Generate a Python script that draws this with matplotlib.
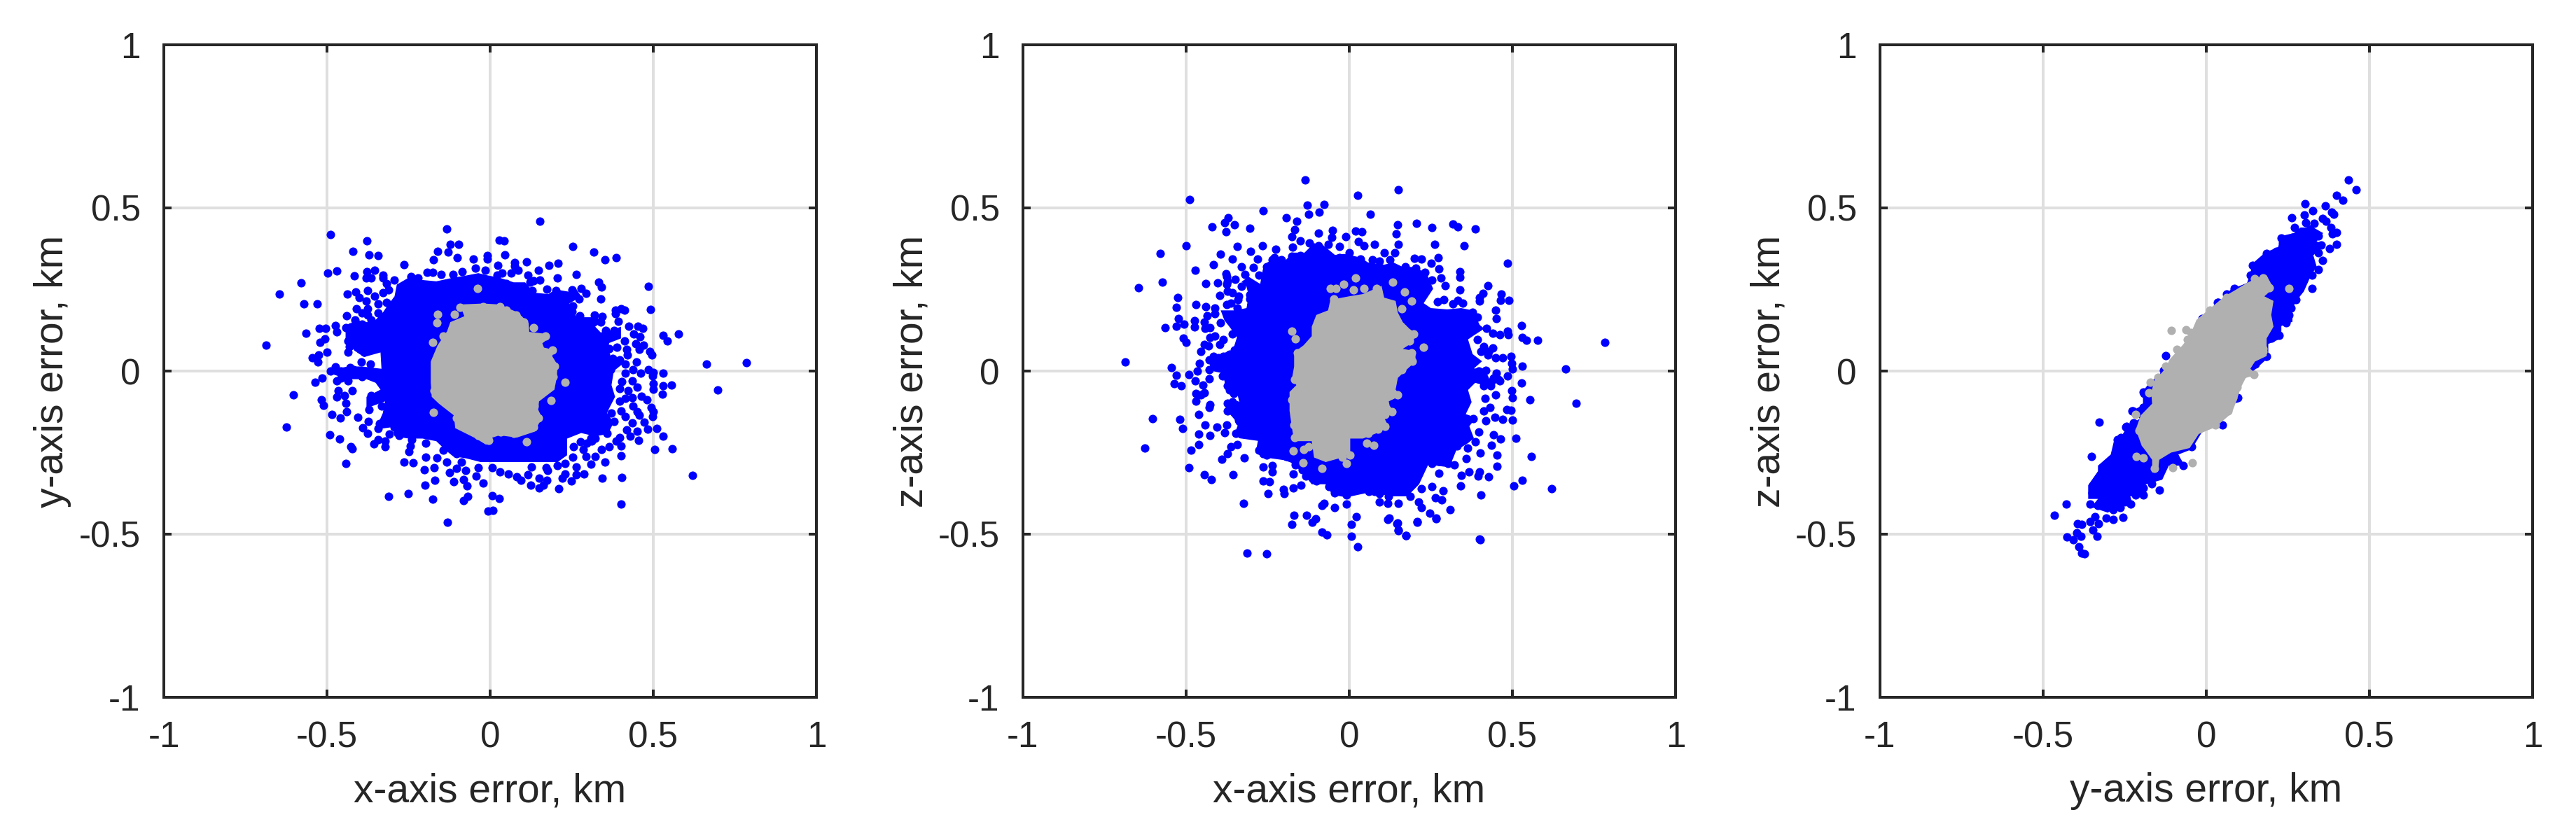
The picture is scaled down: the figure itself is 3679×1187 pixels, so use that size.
import numpy as np
import matplotlib
matplotlib.use('Agg')
import matplotlib.pyplot as plt

plt.rcParams['font.family'] = ['Liberation Sans', 'DejaVu Sans']
plt.rcParams['axes.unicode_minus'] = False

ticks = [-1, -0.5, 0, 0.5, 1]
tick_labels = ['-1', '-0.5', '0', '0.5', '1']
xlabels = ['x-axis error, km', 'x-axis error, km', 'y-axis error, km']
ylabels = ['y-axis error, km', 'z-axis error, km', 'z-axis error, km']

# the middle of each cloud is saturated, single points cannot be read there,
# so the solid areas are outlines (core) and only the
# points that can be told apart are listed one by one (dots)

# x-y panel
xy_blue_core = [(-.443,.129),(-.415,.157),(-.379,.150),(-.358,.150),(-.329,.179),(-.315,.200),(-.293,.229),(-.286,.265),(-.250,.286),(-.207,.279),(-.165,.275),(-.114,.286),(-.072,.293),(-.036,.300),(-.007,.293),(.029,.286),(.072,.272),(.107,.272),(.136,.240),(.179,.236),(.200,.250),(.243,.243),(.265,.250),(.279,.229),(.243,.207),(.265,.165),(.315,.165),(.351,.157),(.322,.136),(.343,.114),(.401,.136),(.401,.100),(.365,.086),(.358,.050),(.415,.029),(.379,0),(.372,-.043),(.383,-.079),(.365,-.114),(.358,-.129),(.379,-.157),(.361,-.193),(.322,-.200),(.279,-.190),(.236,-.207),(.236,-.258),(.207,-.279),(.150,-.279),(.107,-.279),(.093,-.279),(.014,-.279),(-.029,-.279),(-.072,-.268),(-.114,-.261),(-.136,-.243),(-.165,-.215),(-.207,-.207),(-.250,-.207),(-.293,-.200),(-.300,-.172),(-.351,-.179),(-.329,-.129),(-.322,-.093),(-.379,-.114),(-.379,-.079),(-.336,-.057),(-.351,-.036),(-.379,-.025),(-.436,-.025),(-.479,-.011),(-.486,.004),(-.436,.014),(-.393,.014),(-.333,.007),(-.336,.057),(-.386,.043),(-.408,.057),(-.429,.079),(-.443,.100)]
xy_blue_dots = [(-.489,.418),(-.377,.399),(-.420,.368),(-.371,.356),(-.343,.354),(-.134,.435),(-.122,.389),(-.097,.388),(-.128,.365),(-.160,.366),(-.173,.341),(-.264,.326),(-.100,.347),(-.051,.343),(-.009,.354),(-.009,.343),(.028,.401),(.043,.399),(.044,.357),(.024,.323),(.075,.322),(-.497,.300),(-.471,.307),(-.579,.270),(-.645,.237),(-.571,.207),(-.530,.207),(-.416,.291),(-.378,.305),(-.354,.309),(-.379,.285),(-.365,.285),(-.329,.293),(-.293,.279),(-.242,.290),(-.222,.286),(-.193,.302),(-.175,.303),(-.150,.297),(-.114,.297),(-.086,.304),(-.046,.315),(-.014,.309),(-.438,.236),(-.411,.242),(-.376,.246),(-.354,.230),(-.402,.225),(-.409,.192),(-.376,.172),(-.440,.170),(-.415,.157),(-.441,.132),(-.474,.139),(-.469,.120),(-.524,.131),(-.504,.131),(-.564,.115),(-.506,.099),(-.521,.087),(-.686,.079),(-.436,.093),(-.431,.075),(-.435,.057),(-.499,.058),(-.526,.049),(-.545,.040),(-.528,.027),(-.394,.027),(-.368,.021),(-.474,.013),(-.429,.011),(-.490,.001),(-.458,0),(-.515,-.022),(-.536,-.034),(-.469,-.030),(-.436,-.030),(-.423,-.061),(-.465,-.061),(-.471,-.079),(-.447,-.075),(-.602,-.074),(-.518,-.089),(-.510,-.106),(-.441,-.099),(-.439,-.125),(-.486,-.132),(-.460,-.144),(-.405,-.142),(-.374,-.154),(-.625,-.172),(-.390,-.173),(-.376,-.192),(-.491,-.195),(-.461,-.209),(-.427,-.231),(-.422,-.239),(-.443,-.283),(-.356,-.224),(-.343,-.211),(-.322,-.232),(-.308,-.193),(-.343,-.175),(-.279,-.197),(-.240,-.211),(-.245,-.229),(-.249,-.247),(-.197,-.222),(-.143,-.243),(-.104,-.254),(-.264,-.278),(-.237,-.281),(-.197,-.264),(-.163,-.266),(-.172,-.297),(-.133,-.280),(-.202,-.303),(-.087,-.278),(-.104,-.298),(-.124,-.312),(-.075,-.304),(-.036,-.297),(.007,-.297),(.029,-.308),(.055,-.315),(-.043,-.322),(-.169,-.334),(-.112,-.339),(-.082,-.333),(-.070,-.352),(-.021,-.343),(-.199,-.350),(.081,-.323),(.095,-.335),(-.312,-.385),(-.252,-.376),(-.175,-.393),(-.068,-.384),(-.081,-.398),(.007,-.381),(.028,-.391),(-.007,-.430),(.009,-.427),(-.130,-.464),
    (.153,.460),(.254,.383),(.318,.364),(.353,.342),(.387,.348),(.180,.325),(.209,.330),(.111,.334),(.147,.308),(.116,.295),(.207,.285),(.263,.297),(.152,.279),(.132,.276),(.173,.252),(.333,.272),(.341,.258),(.484,.259),(.340,.222),(.202,.247),(.250,.249),(.279,.254),(.295,.238),(.273,.220),(.254,.199),(.250,.182),(.491,.188),(.385,.187),(.401,.192),(.411,.186),(.385,.175),(.275,.170),(.320,.172),(.343,.167),(.340,.150),(.393,.152),(.424,.137),(.453,.137),(.467,.130),(.440,.113),(.460,.105),(.531,.109),(.543,.092),(.578,.113),(.413,.093),(.388,.072),(.447,.084),(.469,.080),(.418,.066),(.420,.050),(.458,.066),(.489,.061),(.495,.049),(.663,.022),(.785,.026),(.448,.027),(.376,.039),(.397,.034),(.415,.021),(.438,.004),(.486,.004),(.499,-.004),(.529,-.006),(.462,-.007),(.415,-.007),(.497,-.016),(.435,-.029),(.404,-.032),(.396,-.054),(.422,-.061),(.451,-.049),(.500,-.039),(.500,-.055),(.529,-.045),(.556,-.042),(.528,-.071),(.697,-.058),(.464,-.077),(.481,-.089),(.436,-.082),(.415,-.084),(.397,-.093),(.494,-.111),(.500,-.125),(.498,-.140),(.438,-.107),(.402,-.123),(.415,-.139),(.451,-.125),(.458,-.136),(.372,-.129),(.379,-.154),(.436,-.159),(.472,-.157),(.511,-.176),(.483,-.179),(.451,-.185),(.418,-.180),(.531,-.199),(.429,-.199),(.397,-.204),(.454,-.213),(.386,-.215),(.401,-.229),(.365,-.231),(.342,-.241),(.505,-.241),(.557,-.239),(.401,-.260),(.352,-.278),(.322,-.261),(.293,-.261),(.286,-.240),(.311,-.215),(.277,-.216),(.256,-.232),(.254,-.265),(.309,-.286),(.265,-.295),(.288,-.315),(.265,-.318),(.248,-.336),(.343,-.329),(.404,-.326),(.620,-.320),(.402,-.408),(.222,-.329),(.210,-.361),(.173,-.334),(.150,-.329),(.164,-.349),(.151,-.358),(.125,-.349),(.175,-.304),(.127,-.295),(.116,-.318),(.229,-.315),
    (-.329,.286),(-.318,.268),(-.311,.250),(-.329,.240),(-.379,.215),(-.343,.207),(-.318,.211),(-.376,.190),(-.393,.179),(-.343,.179),(-.365,.157),(-.393,.143),(-.426,.136),(-.429,.114),(-.404,.125),(-.379,.122),(-.401,.100),(-.408,.072),(-.386,.057),(-.365,.072),(-.386,.082),(-.418,.004),(-.393,-.018),(-.436,-.018),(-.458,-.021),(-.365,-.075),(-.372,-.118),(-.333,-.107),(-.340,-.161),(-.322,-.215),(-.293,-.172),(.354,.125),(.379,.125),(.343,.107),(.372,.107),(.365,.068),(.354,.050),(.369,.004),(.322,-.207),(.358,-.190),(.336,-.175),(.297,-.222),(.308,-.207),(.207,-.290),(.172,-.297),(.229,-.283),(.036,.300),(.021,.293),(.064,.300),(.086,.308),(.075,.333),(.050,.268),(.129,.247),(.122,.272)]
xy_gray_core = [(-.093,.204),(-.021,.207),(.029,.204),(.086,.179),(.118,.147),(.120,.120),(.172,.114),(.179,.100),(.160,.085),(.165,.072),(.200,.064),(.190,.046),(.207,.018),(.204,-.021),(.197,-.057),(.150,-.093),(.147,-.118),(.159,-.143),(.136,-.186),(.082,-.204),(.029,-.197),(.007,-.204),(0,-.225),(-.014,-.225),(-.043,-.207),(-.107,-.175),(-.111,-.136),(-.157,-.100),(-.179,-.079),(-.182,-.036),(-.182,.029),(-.161,.079),(-.132,.122),(-.122,.150),(-.079,.168)]
xy_gray_dots = [(-.039,.253),(-.092,.195),(-.160,.173),(-.109,.173),(-.163,.147),(-.143,.107),(-.175,.089),(.134,.132),(.170,.107),(.190,.064),(.177,.034),(.198,.016),(.193,-.018),(.229,-.034),(.187,-.090),(-.173,-.127),(.136,-.107),(.147,-.143),(.134,-.172),(.112,-.217),(.072,-.192),(.032,-.186),(-.004,-.213),(-.036,-.197),(-.104,-.143),(-.172,-.061),(-.143,-.089),(-.021,.197),(.029,.197),(.050,.186),(.079,.172),(.104,.150),(-.046,.190)]

# x-z panel
xz_blue_core = [(-.383,.156),(-.394,.186),(-.351,.186),(-.315,.193),(-.308,.230),(-.315,.259),(-.330,.274),(-.308,.289),(-.273,.267),(-.265,.311),(-.251,.333),(-.222,.348),(-.194,.341),(-.172,.363),(-.137,.363),(-.108,.392),(-.079,.385),(-.044,.356),(-.015,.359),(.035,.348),(.057,.333),(.107,.326),(.135,.333),(.164,.319),(.200,.319),(.228,.304),(.242,.289),(.257,.252),(.228,.208),(.250,.193),(.300,.189),(.343,.193),(.378,.186),(.400,.141),(.414,.130),(.386,.112),(.364,.097),(.378,.052),(.407,.030),(.382,.008),(.414,.008),(.428,-.021),(.436,-.051),(.386,-.036),(.364,-.058),(.375,-.095),(.357,-.132),(.389,-.143),(.368,-.169),(.382,-.206),(.364,-.221),(.328,-.243),(.307,-.295),(.242,-.287),(.228,-.317),(.214,-.347),(.178,-.384),(.135,-.384),(.057,-.373),(-.008,-.387),(-.051,-.380),(-.072,-.347),(-.115,-.347),(-.144,-.310),(-.180,-.280),(-.201,-.273),(-.258,-.265),(-.287,-.251),(-.280,-.214),(-.337,-.206),(-.351,-.191),(-.340,-.162),(-.366,-.132),(-.380,-.103),(-.337,-.095),(-.344,-.066),(-.380,-.044),(-.387,-.007),(-.423,.001),(-.430,.030),(-.373,.052),(-.358,.060),(-.344,.104),(-.366,.134)]
xz_blue_dots = [(-.135,.585),(-.490,.525),(.026,.538),(-.128,.508),(-.077,.511),(-.265,.492),(-.124,.481),(-.092,.488),(.064,.480),(-.194,.469),(-.160,.459),(-.372,.469),(-.381,.454),(-.351,.448),(-.420,.442),(-.304,.438),(-.378,.426),(-.168,.433),(-.177,.411),(-.094,.422),(-.051,.431),(.019,.429),(.039,.428),(-.151,.400),(-.054,.409),(-.011,.411),(.028,.398),(.044,.385),(.078,.389),(-.499,.385),(-.579,.360),(-.394,.358),(-.343,.381),(-.359,.344),(-.303,.368),(-.267,.384),(-.282,.344),(-.225,.374),(-.174,.379),(-.029,.381),(.108,.363),(-.416,.326),(-.473,.310),(-.331,.320),(-.294,.318),(-.378,.298),(-.319,.296),(-.276,.295),(-.237,.341),(-.573,.273),(-.645,.256),(-.439,.268),(-.404,.271),(-.349,.282),(-.376,.267),(-.373,.245),(-.330,.259),(-.301,.259),(-.398,.231),(-.358,.241),(-.342,.219),(-.305,.222),(-.526,.225),(-.531,.195),(-.469,.203),(-.439,.197),(-.411,.194),(-.411,.176),(-.376,.203),(-.344,.193),(-.435,.169),(-.524,.160),(-.529,.138),(-.506,.143),(-.475,.154),(-.474,.135),(-.444,.150),(-.441,.131),(-.426,.134),(-.564,.132),(-.394,.149),(-.358,.113),(-.509,.101),(-.499,.089),(-.412,.108),(-.426,.102),(-.387,.097),(-.396,.081),(-.444,.082),(-.431,.078),(-.454,.060),(-.351,.064),(-.373,.047),(-.687,.027),(-.546,.010),(-.460,.023),(-.430,.034),(-.401,.041),(-.430,.004),(-.465,.001),(-.491,-.010),(-.529,-.013),(-.388,-.014),(-.351,-.007),(-.472,-.030),(-.430,-.024),(-.536,-.038),(-.516,-.044),(-.448,-.042),(-.373,-.044),(-.444,-.066),(-.355,-.068),(-.471,-.069),(-.469,-.092),(-.455,-.073),(-.426,-.104),(-.430,-.112),(-.374,-.098),(-.374,-.123),(-.348,-.103),(-.461,-.132),(-.604,-.146),(-.519,-.147),(-.510,-.177),(-.441,-.166),(-.406,-.171),(-.375,-.166),(-.340,-.151),(-.381,-.189),(-.461,-.194),(-.428,-.198),(-.348,-.191),(-.319,-.180),(-.626,-.236),(-.462,-.226),(-.486,-.242),(-.362,-.231),(-.343,-.225),(-.373,-.254),(-.391,-.271),(-.321,-.266),(-.491,-.296),(-.444,-.318),(-.422,-.333),(-.356,-.317),(-.276,-.243),(-.254,-.258),(-.263,-.293),(-.237,-.289),(-.236,-.308),(-.265,-.336),(-.245,-.338),(-.250,-.376),(-.323,-.406),(-.201,-.363),(-.199,-.376),(-.172,-.359),(-.147,-.350),(-.165,-.288),(-.171,-.316),(-.194,-.262),(-.133,-.321),(-.101,-.336),(-.062,-.354),(-.044,-.373),(-.009,-.380),(.021,-.363),(-.078,-.406),(-.083,-.412),(-.046,-.419),(-.008,-.407),(-.169,-.441),(-.131,-.441),(-.104,-.452),(-.113,-.463),(-.176,-.469),(.021,-.447),(.007,-.470),(-.083,-.494),(-.069,-.503),(.007,-.506),(.061,-.369),(.092,-.376),(.092,-.402),(.117,-.406),(.123,-.450),
    (-.313,-.557),(-.253,-.561),(.026,-.539),(.401,-.518),(.174,-.505),(.151,-.489),(.147,-.466),(.208,-.462),(.266,-.453),(.119,-.454),
    (.151,.556),(.148,.449),(.207,.453),(.254,.439),(.318,.450),(.333,.442),(.386,.435),(.144,.420),(.151,.389),(.261,.389),(.353,.384),(.139,.362),(.199,.346),(.222,.344),(.273,.348),(.250,.330),(.484,.330),(.172,.319),(.203,.315),(.274,.313),(.232,.302),(.339,.304),(.339,.288),(.282,.285),(.253,.278),(.294,.262),(.424,.261),(.340,.250),(.409,.239),(.466,.236),(.400,.226),(.400,.215),(.464,.217),(.490,.217),(.289,.219),(.271,.213),(.332,.217),(.318,.205),(.348,.208),(.448,.186),(.450,.160),(.378,.180),(.393,.166),(.528,.140),(.420,.130),(.439,.115),(.461,.112),(.486,.123),(.487,.112),(.530,.102),(.543,.095),(.577,.095),(.784,.089),(.411,.076),(.440,.070),(.403,.060),(.425,.049),(.448,.040),(.471,.040),(.496,.044),(.497,.024),(.529,.016),(.499,.006),(.663,.006),(.396,.001),(.418,.002),(.450,-.007),(.486,-.016),(.461,-.029),(.527,-.036),(.411,-.045),(.434,-.046),(.497,-.060),(.499,-.081),(.449,-.074),(.554,-.088),(.696,-.099),(.416,-.083),(.432,-.112),(.413,-.123),(.482,-.119),(.496,-.120),(.419,-.152),(.446,-.141),(.471,-.147),(.499,-.151),(.379,-.146),(.398,-.186),(.443,-.196),(.464,-.208),(.511,-.206),(.436,-.227),(.386,-.216),(.362,-.236),(.402,-.251),(.453,-.258),(.557,-.261),(.358,-.268),(.452,-.291),(.321,-.288),(.275,-.313),(.343,-.319),(.366,-.310),(.400,-.310),(.394,-.321),(.428,-.324),(.530,-.334),(.504,-.352),(.620,-.360),(.342,-.352),(.253,-.354),(.288,-.367),(.264,-.389),(.283,-.395),(.403,-.380),(.222,-.360),(.187,-.384),(.151,-.406),(.212,-.402),(.220,-.418),(.308,-.424),(.247,-.435),(.266,-.451),(.208,-.463),(.146,-.467),(.151,-.488),(.173,-.504),(.400,-.515),(.303,-.284),(.253,-.284),(.275,-.276),(.257,-.247),(.296,-.247),(.330,-.230),
    (-.376,.289),(-.373,.274),(-.362,.208),(-.340,.230),(-.304,.234),(-.301,.204),(-.258,.267),(-.254,.319),(-.251,.289),(-.230,.348),(-.208,.341),(-.176,.352),(-.151,.355),(-.122,.392),(-.094,.385),(-.065,.389),(-.029,.348),(-.001,.363),(.035,.344),(.071,.341),(.092,.337),(.124,.341),(-.416,.045),(-.387,.045),(-.366,.052),(-.380,-.014),(-.351,-.033),(-.366,-.058),(-.337,-.051),(-.358,-.095),(-.337,-.125),(-.337,-.154),(-.308,-.177),(-.287,-.195),(-.265,-.254),(-.265,-.221),(-.194,-.243),(-.144,-.302),(-.094,-.317),(-.036,-.354),(-.008,-.361),(.078,-.369),(.121,-.384),(.393,.097),(.428,.060),(.443,-.021),(.457,-.025),(.436,-.033)]
xz_gray_core = [(-.058,.218),(-.001,.229),(.042,.236),(.099,.261),(.107,.225),(.142,.215),(.149,.179),(.164,.150),(.185,.129),(.207,.114),(.192,.086),(.164,.068),(.203,.061),(.203,.029),(.171,0),(.149,-.021),(.142,-.057),(.157,-.075),(.121,-.093),(.124,-.107),(.139,-.125),(.107,-.143),(.121,-.172),(.085,-.190),(.042,-.207),(.003,-.207),(.003,-.250),(-.022,-.265),(-.072,-.279),(-.108,-.265),(-.115,-.215),(-.169,-.215),(-.176,-.172),(-.183,-.122),(-.183,-.064),(-.162,-.043),(-.176,-.025),(-.169,.014),(-.169,.057),(-.140,.079),(-.115,.107),(-.115,.136),(-.101,.172),(-.065,.186)]
xz_gray_dots = [(.019,.285),(.133,.272),(.169,.243),(.190,.214),(.162,.190),(-.018,.266),(-.058,.253),(-.040,.254),(.012,.248),(.046,.254),(.084,.254),(-.047,.222),(-.176,.123),(-.165,.098),(.228,.072),(.197,.114),(.185,.093),(.192,.056),(.194,.031),(.160,.004),(.147,-.074),(.128,-.074),(.130,-.124),(.110,-.134),(.110,-.170),(.087,-.179),(.059,-.190),(.054,-.220),(.076,-.228),(.003,-.258),(-.022,-.265),(-.008,-.284),(-.083,-.298),(-.142,-.282),(-.172,-.245),(-.139,-.240),(-.124,-.232),(-.167,-.204),(-.169,-.165),(-.176,-.089),(-.167,-.026),(-.158,.056)]

# y-z panel
yz_blue_core = [(.136,.304),(.141,.329),(.180,.363),(.220,.380),(.230,.414),(.269,.423),(.289,.440),(.328,.440),(.358,.423),(.338,.397),(.367,.389),(.348,.372),(.328,.355),(.338,.321),(.318,.287),(.299,.244),(.279,.219),(.264,.193),(.264,.151),(.230,.138),(.230,.100),(.190,.083),(.190,.041),(.161,.015),(.110,-.030),(.090,-.040),(.085,-.090),(.040,-.140),(-.015,-.190),(-.045,-.240),(-.086,-.256),(-.066,-.290),(-.115,-.290),(-.135,-.333),(-.194,-.350),(-.184,-.388),(-.233,-.384),(-.224,-.413),(-.273,-.417),(-.302,-.434),(-.352,-.417),(-.332,-.392),(-.362,-.392),(-.362,-.350),(-.332,-.307),(-.332,-.290),(-.293,-.256),(-.283,-.214),(-.258,-.197),(-.243,-.171),(-.204,-.146),(-.224,-.120),(-.194,-.104),(-.194,-.061),(-.174,-.036),(-.135,-.002),(-.110,.032),(-.060,.085),(-.020,.150),(.005,.180),(.040,.210),(.075,.250),(.125,.270)]
yz_blue_dots = [(.435,.585),(.459,.556),(.400,.538),(.419,.524),(.302,.512),(.365,.507),(.326,.491),(.384,.488),(.391,.481),(.301,.479),(.261,.469),(.356,.468),(.366,.459),(.304,.455),(.331,.452),(.271,.440),(.382,.440),(.318,.435),(.400,.424),(.387,.421),(.343,.414),(.230,.407),(.265,.410),(.284,.414),(.234,.393),(.399,.389),(.353,.387),(.377,.376),(.343,.363),(.215,.367),(.185,.361),(.356,.338),(.141,.324),(.343,.311),(.136,.295),(.323,.294),(.323,.254),(.299,.278),(.085,.254),(.062,.236),(.037,.210),(.274,.219),(.259,.193),(.254,.172),(.244,.149),(.223,.110),(.200,.100),(.182,.045),(.151,.022),(-.124,.048),(-.130,.003),(-.194,-.065),(-.228,-.123),(-.194,-.112),(-.329,-.156),(-.246,-.171),(-.224,-.159),(.090,-.083),(.044,-.133),(.050,-.165),(-.273,-.210),(-.261,-.204),(-.351,-.262),(-.046,-.231),(-.071,-.290),(-.096,-.265),(-.125,-.277),(-.145,-.320),(-.167,-.345),(-.143,-.364),(-.194,-.358),(-.194,-.379),(-.216,-.379),(-.347,-.350),(-.350,-.373),(-.429,-.408),(-.357,-.407),(-.332,-.413),(-.465,-.441),(-.286,-.424),(-.263,-.419),(-.232,-.407),(-.258,-.400),(-.255,-.448),(-.307,-.451),(-.285,-.454),(-.342,-.447),(-.357,-.462),(-.394,-.468),(-.381,-.471),(-.331,-.468),(-.397,-.496),(-.347,-.488),(-.335,-.506),(-.428,-.508),(-.384,-.506),(-.408,-.518),(-.391,-.538),(-.383,-.557),(-.373,-.561),(.035,.211),(-.226,-.122),(-.194,-.111),(-.245,-.170),(-.191,-.068),(-.126,.004),(.045,-.136),(.096,-.082),(-.012,.161),(.185,.046)]
yz_gray_core = [(.121,.268),(.156,.286),(.185,.293),(.206,.254),(.178,.229),(.206,.215),(.199,.172),(.206,.136),(.185,.100),(.185,.046),(.149,.029),(.135,.007),(.156,-.011),(.121,-.021),(.106,-.050),(.092,-.093),(.078,-.129),(.028,-.172),(-.023,-.193),(-.051,-.236),(-.108,-.250),(-.144,-.272),(-.148,-.308),(-.166,-.311),(-.166,-.272),(-.187,-.243),(-.198,-.229),(-.216,-.179),(-.201,-.136),(-.166,-.100),(-.169,-.064),(-.158,-.029),(-.126,.007),(-.112,.036),(-.073,.079),(-.051,.107),(-.030,.157),(.013,.193),(.056,.229),(.092,.250)]
yz_gray_dots = [(-.107,.124),(-.063,.127),(-.048,.118),(-.057,.096),(-.090,.067),(-.124,.014),(-.148,-.020),(-.171,-.034),(-.175,-.067),(-.217,-.132),(-.205,-.182),(-.214,-.261),(-.194,-.266),(-.158,-.299),(-.103,-.297),(-.043,-.281),(.028,-.165),(.067,-.123),(.082,-.082),(.095,-.050),(.146,-.011),(.174,.061),(.174,.068),(.194,.256),(.174,.286),(.149,.283),(.254,.253),(.063,.225),(.010,.186),(-.015,.154)]

panels = [
    (xy_blue_core, xy_blue_dots, xy_gray_core, xy_gray_dots),
    (xz_blue_core, xz_blue_dots, xz_gray_core, xz_gray_dots),
    (yz_blue_core, yz_blue_dots, yz_gray_core, yz_gray_dots),
]

W, H = 3679, 1187
ink = '#262626'
blue = '#0000ff'
gray = '#b0b0b0'
lefts = [234, 1461, 2685]

fig = plt.figure(figsize=(W / 300, H / 300), dpi=300)

for i, (bcore, bdots, gcore, gdots) in enumerate(panels):
    ax = fig.add_axes([lefts[i] / W, (H - 996) / H, 932 / W, 932 / H])
    bcore, bdots, gcore, gdots = map(np.array, (bcore, bdots, gcore, gdots))

    ax.fill(bcore[:, 0], bcore[:, 1], color=blue, lw=0, zorder=2)
    ax.scatter(bdots[:, 0], bdots[:, 1], s=8.5, c=blue, linewidths=0, zorder=3)
    ax.fill(gcore[:, 0], gcore[:, 1], color=gray, lw=0, zorder=4)
    ax.scatter(gdots[:, 0], gdots[:, 1], s=8.5, c=gray, linewidths=0, zorder=5)

    ax.set_xlim(-1, 1)
    ax.set_ylim(-1, 1)
    ax.set_xticks(ticks, tick_labels)
    ax.set_yticks(ticks, tick_labels)
    ax.grid(True, color='#dfdfdf', linewidth=0.96, zorder=1)
    ax.set_axisbelow(True)
    ax.tick_params(direction='in', length=2.6, width=0.96, color=ink, labelcolor=ink,
                   labelsize=12.3, top=True, right=True, pad=8)
    ax.set_xlabel(xlabels[i], fontsize=13.7, color=ink, labelpad=6)
    ax.set_ylabel(ylabels[i], fontsize=13.7, color=ink, labelpad=2.5)
    for s in ax.spines.values():
        s.set_color(ink)
        s.set_linewidth(0.96)

fig.savefig('out.png', dpi=300)
